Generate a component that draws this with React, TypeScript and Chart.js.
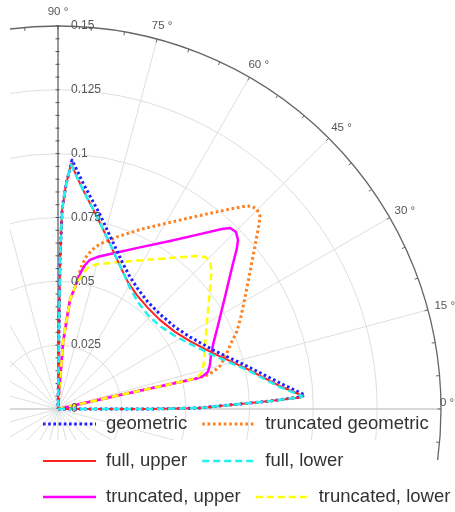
import React, { useEffect, useRef } from "react";
import { Chart, registerables } from "chart.js";

Chart.register(...registerables);

// ---------- data (cartesian values of the polar curves: x = r·cosθ, y = r·sinθ) ----------
const angleTicks = [0, 15, 30, 45, 60, 75, 90];
const radialTicks = [0, 0.025, 0.05, 0.075, 0.1, 0.125, 0.15];
const radialTickLabels = ["0", "0.025", "0.05", "0.075", "0.1", "0.125", "0.15"];
const R_MAX = 0.15;

const seriesLabels = [
  "geometric",
  "truncated geometric",
  "full, upper",
  "full, lower",
  "truncated, upper",
  "truncated, lower",
];

const geometricX = [0, 0.036, 0.0556, 0.0713, 0.083, 0.0948, 0.0967, 0.0869, 0.074, 0.0607, 0.0517, 0.0458, 0.0399, 0.0352, 0.0313, 0.0282, 0.0251, 0.0211, 0.0161, 0.0102, 0.0055, 0.0031, 0.0016, 0.0008, 0.0004, 0];
const geometricY = [0, 0, 0.0004, 0.002, 0.0031, 0.0047, 0.0055, 0.0102, 0.0168, 0.0231, 0.0282, 0.0321, 0.0372, 0.0419, 0.047, 0.0517, 0.0576, 0.0662, 0.0768, 0.0877, 0.0975, 0.0877, 0.0779, 0.0584, 0.0309, 0];

const fullUpperX = [0, 0.036, 0.0556, 0.0713, 0.083, 0.0948, 0.096, 0.0869, 0.074, 0.0607, 0.0517, 0.0458, 0.0399, 0.0352, 0.0309, 0.0274, 0.0243, 0.0204, 0.0153, 0.0094, 0.0051, 0.0031, 0.0016, 0.0008, 0.0004, 0];
const fullUpperY = [0, 0, 0.0004, 0.002, 0.0031, 0.0045, 0.0051, 0.009, 0.0157, 0.0219, 0.0266, 0.0302, 0.0349, 0.0396, 0.0446, 0.0497, 0.056, 0.0646, 0.0752, 0.0866, 0.096, 0.0877, 0.0779, 0.0584, 0.0309, 0];

const fullLowerX = [0, 0.036, 0.0556, 0.0713, 0.083, 0.0948, 0.0956, 0.0869, 0.074, 0.0607, 0.0517, 0.0458, 0.0399, 0.0352, 0.0313, 0.0282, 0.0251, 0.0204, 0.0153, 0.0094, 0.0051, 0.0031, 0.0016, 0.0008, 0.0004, 0];
const fullLowerY = [0, 0, 0.0004, 0.002, 0.0031, 0.0045, 0.0051, 0.0086, 0.0153, 0.0211, 0.0255, 0.0286, 0.0325, 0.0368, 0.0419, 0.0474, 0.0544, 0.0646, 0.0752, 0.0866, 0.0956, 0.0877, 0.0779, 0.0584, 0.0309, 0];

const truncGeomX = [0, 0.0243, 0.036, 0.0478, 0.0548, 0.058, 0.0607, 0.0634, 0.0658, 0.0678, 0.0701, 0.0717, 0.0732, 0.0752, 0.0772, 0.0787, 0.0791, 0.0779, 0.0756, 0.0725, 0.0674, 0.0556, 0.0427, 0.0321, 0.0231, 0.0164, 0.0133, 0.011, 0.0094, 0.0082, 0.007, 0.0047, 0.0035, 0.002, 0.0012, 0.0004, 0];
const truncGeomY = [0, 0.0055, 0.008, 0.0106, 0.0121, 0.0131, 0.0145, 0.0168, 0.0211, 0.0258, 0.0305, 0.0364, 0.0435, 0.0537, 0.0642, 0.0721, 0.0756, 0.0783, 0.0795, 0.0793, 0.0783, 0.0758, 0.0728, 0.0703, 0.0674, 0.0646, 0.0623, 0.0595, 0.0564, 0.0529, 0.0486, 0.0427, 0.0356, 0.0262, 0.0161, 0.0067, 0];

const truncUpperX = [0, 0.0243, 0.036, 0.0478, 0.054, 0.0568, 0.0587, 0.0595, 0.0599, 0.0607, 0.0627, 0.0654, 0.0681, 0.0701, 0.0705, 0.0697, 0.0674, 0.0642, 0.0556, 0.0439, 0.0321, 0.0204, 0.0153, 0.0125, 0.0106, 0.009, 0.007, 0.0047, 0.0035, 0.002, 0.0012, 0.0004, 0];
const truncUpperY = [0, 0.0055, 0.008, 0.0106, 0.0119, 0.0129, 0.0145, 0.0172, 0.0211, 0.0251, 0.0329, 0.0439, 0.0552, 0.0631, 0.0662, 0.0693, 0.0709, 0.0705, 0.0685, 0.0658, 0.0633, 0.0607, 0.0595, 0.0584, 0.0564, 0.0537, 0.0486, 0.0427, 0.0356, 0.0262, 0.0161, 0.0067, 0];

const truncLowerX = [0, 0.0243, 0.036, 0.0478, 0.0525, 0.0552, 0.0564, 0.0572, 0.0576, 0.0584, 0.0595, 0.0601, 0.0595, 0.0576, 0.0537, 0.0439, 0.0321, 0.0204, 0.0149, 0.0121, 0.0102, 0.007, 0.0047, 0.0035, 0.002, 0.0012, 0.0004, 0];
const truncLowerY = [0, 0.0055, 0.008, 0.0106, 0.0116, 0.0129, 0.0145, 0.0184, 0.0251, 0.0349, 0.0466, 0.0544, 0.058, 0.0595, 0.0599, 0.0591, 0.0582, 0.0572, 0.0566, 0.0556, 0.0537, 0.0486, 0.0427, 0.0356, 0.0262, 0.0161, 0.0067, 0];

// ---------- styling / layout ----------
const PX_PER_UNIT = 383 / 0.15;
const ORIGIN_X_PX = 58;
const ORIGIN_Y_PX = 409;
const W = 455;
const H = 512;

type Style = { color: string; width: number; dash: number[] };
const styles: Record<string, Style> = {
  geometric: { color: "#1f1fff", width: 3, dash: [2.6, 2.6] },
  "truncated geometric": { color: "#ff7f1e", width: 3, dash: [2.6, 2.8] },
  "full, upper": { color: "#ff2222", width: 2, dash: [] },
  "full, lower": { color: "#1ff0f0", width: 2.5, dash: [7, 4] },
  "truncated, upper": { color: "#ff00ff", width: 2.5, dash: [] },
  "truncated, lower": { color: "#ffff00", width: 2.5, dash: [7, 4] },
};

const FONT = '"Liberation Sans", Arial, Helvetica, sans-serif';

function pts(xs: number[], ys: number[]) {
  return xs.map((x, i) => ({ x, y: ys[i] }));
}

function geom(chart: any) {
  const xs = chart.scales.x;
  const ys = chart.scales.y;
  const cx = xs.getPixelForValue(0);
  const cy = ys.getPixelForValue(0);
  const rp = (r: number) => xs.getPixelForValue(r) - cx;
  return { cx, cy, rp, R: rp(R_MAX) };
}
const rad = (a: number) => (a * Math.PI) / 180;

const polarGrid = {
  id: "polarGrid",
  beforeDatasetsDraw(chart: any) {
    const ctx: CanvasRenderingContext2D = chart.ctx;
    const { cx, cy, rp, R } = geom(chart);

    // light grid
    ctx.save();
    ctx.beginPath();
    ctx.rect(10, 0, W - 10, 440);
    ctx.clip();
    ctx.strokeStyle = "#dedede";
    ctx.lineWidth = 1;
    radialTicks.forEach((r) => {
      if (r <= 0 || r >= R_MAX) return;
      ctx.beginPath();
      ctx.arc(cx, cy, rp(r), 0, Math.PI * 2);
      ctx.stroke();
    });
    for (let a = 0; a < 360; a += 15) {
      if (a === 90) continue;
      ctx.beginPath();
      ctx.moveTo(cx, cy);
      ctx.lineTo(cx + R * Math.cos(rad(a)), cy - R * Math.sin(rad(a)));
      if (a === 0 || a === 180) {
        ctx.strokeStyle = "#cccccc";
        ctx.lineWidth = 1.6;
      } else {
        ctx.strokeStyle = "#dedede";
        ctx.lineWidth = 1;
      }
      ctx.stroke();
    }
    ctx.restore();

    // outer circle with angular ticks
    ctx.save();
    ctx.beginPath();
    ctx.rect(10, 0, W - 10, 460);
    ctx.clip();
    ctx.strokeStyle = "#666666";
    ctx.lineWidth = 1.3;
    ctx.beginPath();
    ctx.arc(cx, cy, R, 0, Math.PI * 2);
    ctx.stroke();
    ctx.lineWidth = 1;
    for (let a = 0; a < 360; a += 5) {
      const c = Math.cos(rad(a));
      const s = Math.sin(rad(a));
      ctx.beginPath();
      ctx.moveTo(cx + (R - 3.5) * c, cy - (R - 3.5) * s);
      ctx.lineTo(cx + R * c, cy - R * s);
      ctx.stroke();
    }
    ctx.restore();

    // radial axis at 90°
    ctx.save();
    ctx.strokeStyle = "#555555";
    ctx.lineWidth = 1.2;
    ctx.beginPath();
    ctx.moveTo(cx, cy);
    ctx.lineTo(cx, cy - R);
    ctx.stroke();
    ctx.lineWidth = 1;
    for (let i = 1; i * 0.005 < R_MAX + 1e-9; i++) {
      const y = cy - rp(i * 0.005);
      ctx.beginPath();
      ctx.moveTo(cx - 2.5, y);
      ctx.lineTo(cx + 1.5, y);
      ctx.stroke();
    }
    ctx.restore();
  },
  afterDatasetsDraw(chart: any) {
    const ctx: CanvasRenderingContext2D = chart.ctx;
    const { cx, cy, rp, R } = geom(chart);
    ctx.save();
    ctx.font = `12px ${FONT}`;
    ctx.fillStyle = "#555555";
    ctx.textAlign = "left";
    ctx.textBaseline = "middle";
    radialTicks.forEach((r, i) => {
      ctx.fillText(radialTickLabels[i], cx + 13, cy - rp(r));
    });
    ctx.font = `11.5px ${FONT}`;
    angleTicks.forEach((a) => {
      const txt = `${a} °`;
      const w = ctx.measureText(txt).width;
      const c = Math.cos(rad(a));
      const s = Math.sin(rad(a));
      const px = cx + R * c;
      const py = cy - R * s;
      const dx = a === 0 ? -1 : 7 * c - w * 0.5 * Math.pow(a / 90, 2);
      const dy = a === 0 ? -6 : -14 * s;
      ctx.fillText(txt, px + dx, py + dy);
    });
    ctx.restore();
  },
};

const legendRows: [number, number][] = [
  [0, 1],
  [2, 3],
  [4, 5],
];

const polarLegend = {
  id: "polarLegend",
  afterDraw(chart: any) {
    const ctx: CanvasRenderingContext2D = chart.ctx;
    ctx.save();
    ctx.font = `18.5px ${FONT}`;
    ctx.textBaseline = "middle";
    ctx.textAlign = "left";
    const rowY = [424, 461, 497];
    const sampleLen = 53;
    const drawItem = (idx: number, x0: number, y: number) => {
      const label = seriesLabels[idx];
      const st = styles[label];
      ctx.save();
      ctx.strokeStyle = st.color;
      ctx.lineWidth = st.width;
      ctx.setLineDash(st.dash);
      ctx.lineCap = "butt";
      ctx.beginPath();
      ctx.moveTo(x0, y);
      ctx.lineTo(x0 + sampleLen, y);
      ctx.stroke();
      ctx.restore();
      ctx.fillStyle = "#333333";
      const tx = x0 + sampleLen + 10;
      ctx.fillText(label, tx, y);
      return tx + ctx.measureText(label).width;
    };
    legendRows.forEach(([a, b], r) => {
      const end = drawItem(a, 43, rowY[r]);
      drawItem(b, end + 15, rowY[r]);
    });
    ctx.restore();
  },
};

function makeDataset(label: string, xs: number[], ys: number[]) {
  const st = styles[label];
  return {
    label,
    data: pts(xs, ys),
    showLine: true,
    borderColor: st.color,
    backgroundColor: st.color,
    borderWidth: st.width,
    borderDash: st.dash,
    borderCapStyle: "butt" as const,
    borderJoinStyle: "round" as const,
    pointRadius: 0,
    fill: false,
    tension: 0,
  };
}

export default function App() {
  const canvasRef = useRef<HTMLCanvasElement | null>(null);

  useEffect(() => {
    if (!canvasRef.current) return;
    const xMin = -ORIGIN_X_PX / PX_PER_UNIT;
    const xMax = (W - ORIGIN_X_PX) / PX_PER_UNIT;
    const yMax = ORIGIN_Y_PX / PX_PER_UNIT;
    const yMin = -(H - ORIGIN_Y_PX) / PX_PER_UNIT;

    // first in list is drawn on top
    const datasets = [
      makeDataset("full, lower", fullLowerX, fullLowerY),
      makeDataset("full, upper", fullUpperX, fullUpperY),
      makeDataset("geometric", geometricX, geometricY),
      makeDataset("truncated, lower", truncLowerX, truncLowerY),
      makeDataset("truncated, upper", truncUpperX, truncUpperY),
      makeDataset("truncated geometric", truncGeomX, truncGeomY),
    ];

    const chart = new Chart(canvasRef.current, {
      type: "scatter",
      data: { datasets },
      options: {
        animation: false,
        responsive: true,
        maintainAspectRatio: false,
        events: [],
        layout: { padding: 0 },
        plugins: {
          legend: { display: false },
          tooltip: { enabled: false },
        },
        scales: {
          x: { type: "linear", min: xMin, max: xMax, display: false },
          y: { type: "linear", min: yMin, max: yMax, display: false },
        },
      },
      plugins: [polarGrid, polarLegend],
    } as any);
    return () => chart.destroy();
  }, []);

  return (
    <div style={{ position: "fixed", left: 0, top: 0, width: W, height: H, background: "#ffffff" }}>
      <canvas ref={canvasRef} />
    </div>
  );
}
